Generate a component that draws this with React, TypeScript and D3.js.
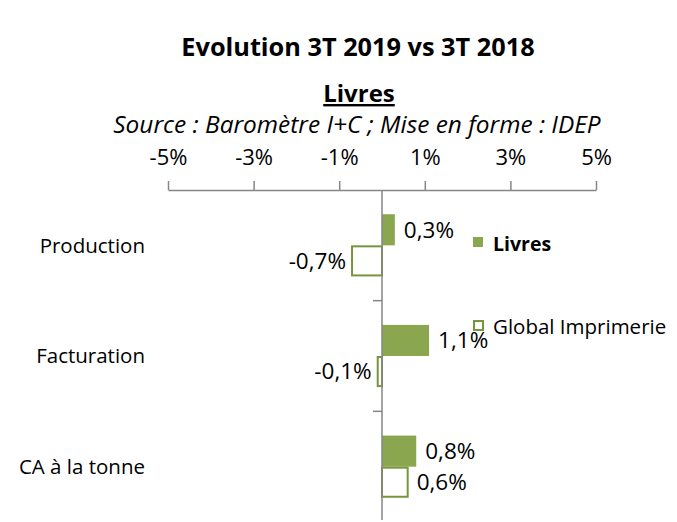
import React, { useEffect, useRef } from 'react';
import * as d3 from 'd3';

const categories = ['Production', 'Facturation', 'CA à la tonne'];
const seriesNames = ['Livres', 'Global Imprimerie'];
const livresValues = [0.3, 1.1, 0.8];
const globalValues = [-0.7, -0.1, 0.6];
const tickValues = [-5, -3, -1, 1, 3, 5];

const GREEN = '#8aa64e';
const GREEN_DARK = '#77963b';
const AXIS = '#868686';
const FONT = '"Open Sans", sans-serif';

const App: React.FC = () => {
    const svgRef = useRef<SVGSVGElement>(null);

    useEffect(() => {
        if (!svgRef.current) return;
        const svg = d3.select(svgRef.current);
        svg.selectAll('*').remove();

        const width = 677;
        const height = 522;
        const plot = { left: 168, right: 596, top: 190, bottom: 522 };

        const x = d3.scaleLinear().domain([-5, 5]).range([plot.left, plot.right]);
        const y = d3.scaleBand<string>().domain(categories).range([plot.top, plot.bottom]);
        const ySeries = d3.scaleBand<string>()
            .domain(seriesNames)
            .range([0, y.bandwidth()])
            .paddingOuter(0.78);

        const locale = d3.formatLocale({ decimal: ',', thousands: ' ', grouping: [3], currency: ['', '€'], minus: '-' });
        const fmt = locale.format('.1f');

        svg.attr('width', width).attr('height', height);

        // titles
        svg.append('text')
            .attr('x', 358).attr('y', 56)
            .attr('text-anchor', 'middle')
            .style('font-family', FONT).style('font-weight', 'bold').style('font-size', '25.3px')
            .text('Evolution 3T 2019 vs 3T 2018');

        svg.append('text')
            .attr('x', 359).attr('y', 102)
            .attr('text-anchor', 'middle')
            .style('font-family', FONT).style('font-weight', 'bold').style('font-size', '24px')
            .style('text-decoration', 'underline')
            .text('Livres');

        svg.append('text')
            .attr('x', 357).attr('y', 133)
            .attr('text-anchor', 'middle')
            .style('font-family', FONT).style('font-style', 'italic').style('font-size', '24.4px')
            .text('Source : Baromètre I+C ; Mise en forme : IDEP');

        // top axis
        const xAxis = svg.append('g')
            .attr('transform', `translate(0,${plot.top})`)
            .call(d3.axisTop(x)
                .tickValues(tickValues)
                .tickSize(9)
                .tickSizeOuter(0)
                .tickPadding(16)
                .tickFormat(d => `${d}%`));
        xAxis.select('.domain').attr('stroke', AXIS).attr('stroke-width', 1.5);
        xAxis.selectAll('.tick line').attr('stroke', AXIS).attr('stroke-width', 1.5);
        xAxis.selectAll('.tick text')
            .attr('fill', '#000')
            .style('font-family', FONT).style('font-size', '22px');

        // bars
        const rows = categories.map((c, i) => ({ cat: c, livres: livresValues[i], global: globalValues[i] }));

        const g = svg.append('g');
        rows.forEach(r => {
            const y0 = y(r.cat) ?? 0;
            const yl = y0 + (ySeries('Livres') ?? 0);
            const yg = y0 + (ySeries('Global Imprimerie') ?? 0);
            const bh = ySeries.bandwidth();

            g.append('rect')
                .attr('x', Math.min(x(0), x(r.livres)))
                .attr('y', yl)
                .attr('width', Math.abs(x(r.livres) - x(0)))
                .attr('height', bh)
                .attr('fill', GREEN);

            g.append('rect')
                .attr('x', Math.min(x(0), x(r.global)))
                .attr('y', yg + 1)
                .attr('width', Math.abs(x(r.global) - x(0)))
                .attr('height', bh - 2)
                .attr('fill', '#fff')
                .attr('stroke', GREEN_DARK)
                .attr('stroke-width', 2);

            const label = (v: number, yy: number) => {
                g.append('text')
                    .attr('x', v >= 0 ? x(v) + 9 : x(v) - 6)
                    .attr('y', yy + bh / 2)
                    .attr('dy', '0.35em')
                    .attr('text-anchor', v >= 0 ? 'start' : 'end')
                    .style('font-family', FONT).style('font-size', '22.5px')
                    .text(`${fmt(v)}%`);
            };
            label(r.livres, yl);
            label(r.global, yg);
        });

        // vertical axis at zero
        const yAxis = svg.append('g').attr('transform', `translate(${x(0)},0)`);
        yAxis.append('line')
            .attr('y1', plot.top).attr('y2', 520)
            .attr('stroke', AXIS).attr('stroke-width', 1.5);
        categories.slice(1).forEach(c => {
            const yy = y(c) ?? 0;
            yAxis.append('line')
                .attr('x1', -9).attr('x2', 0)
                .attr('y1', yy).attr('y2', yy)
                .attr('stroke', AXIS).attr('stroke-width', 1.5);
        });

        // category labels
        svg.append('g').selectAll('text')
            .data(categories)
            .join('text')
            .attr('x', 145)
            .attr('y', d => (y(d) ?? 0) + y.bandwidth() / 2)
            .attr('dy', '0.35em')
            .attr('text-anchor', 'end')
            .style('font-family', FONT).style('font-size', '20.5px')
            .text(d => d);

        // legend
        const legend = svg.append('g').attr('transform', 'translate(473,0)');
        legend.append('rect')
            .attr('x', 0).attr('y', 237).attr('width', 10).attr('height', 10)
            .attr('fill', GREEN);
        legend.append('text')
            .attr('x', 20).attr('y', 244).attr('dy', '0.35em')
            .style('font-family', FONT).style('font-weight', 'bold').style('font-size', '19.5px')
            .text(seriesNames[0]);
        legend.append('rect')
            .attr('x', 1).attr('y', 321).attr('width', 9).attr('height', 9)
            .attr('fill', '#fff').attr('stroke', GREEN_DARK).attr('stroke-width', 2);
        legend.append('text')
            .attr('x', 20).attr('y', 327).attr('dy', '0.35em')
            .style('font-family', FONT).style('font-size', '20.5px')
            .text(seriesNames[1]);
    }, []);

    return (
        <svg ref={svgRef} width={677} height={522} style={{ position: 'absolute', left: 0, top: 0 }}></svg>
    );
};

export default App;
